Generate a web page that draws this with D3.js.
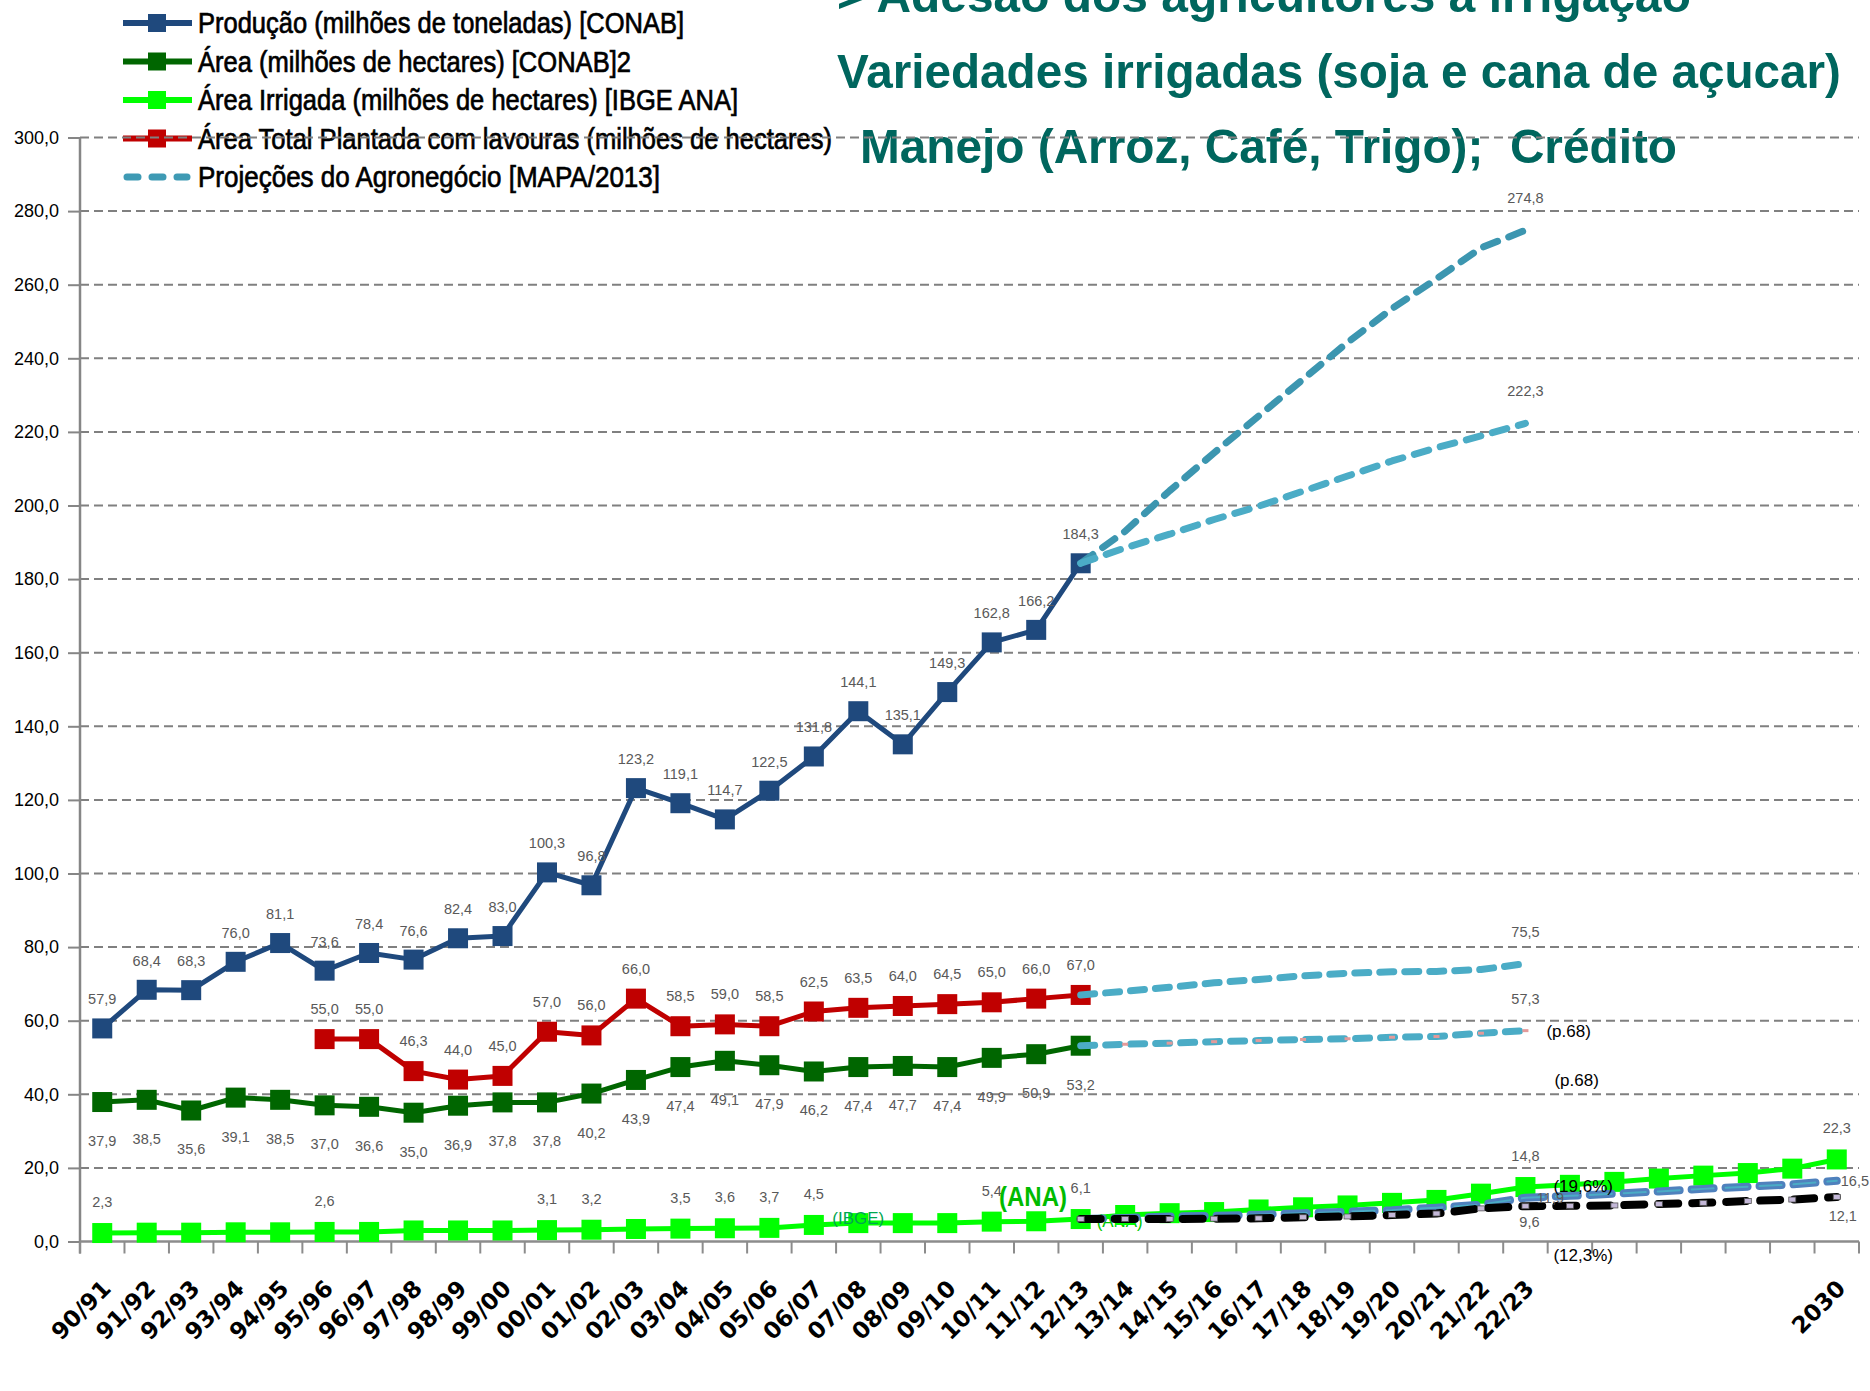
<!DOCTYPE html>
<html>
<head>
<meta charset="utf-8">
<title>Produção, área e projeções</title>
<script src="https://cdn.jsdelivr.net/npm/d3@7/dist/d3.min.js"></script>
<style>
body{margin:0;background:#fff;}
svg{display:block;}
</style>
</head>
<body>
<div id="chart"></div>
<script>

var categories = ["90/91","91/92","92/93","93/94","94/95","95/96","96/97","97/98","98/99","99/00",
  "00/01","01/02","02/03","03/04","04/05","05/06","06/07","07/08","08/09","09/10",
  "10/11","11/12","12/13","13/14","14/15","15/16","16/17","17/18","18/19","19/20",
  "20/21","21/22","22/23","23/24","24/25","25/26","26/27","27/28","28/29","2030"];

var tickLabels = ["90/91","91/92","92/93","93/94","94/95","95/96","96/97","97/98","98/99","99/00",
  "00/01","01/02","02/03","03/04","04/05","05/06","06/07","07/08","08/09","09/10",
  "10/11","11/12","12/13","13/14","14/15","15/16","16/17","17/18","18/19","19/20",
  "20/21","21/22","22/23","","","","","","","2030"];

var yTicks = [0,20,40,60,80,100,120,140,160,180,200,220,240,260,280,300];

// series (start at 90/91)
var producao = [57.9,68.4,68.3,76.0,81.1,73.6,78.4,76.6,82.4,83.0,100.3,96.8,123.2,119.1,114.7,122.5,131.8,144.1,135.1,149.3,162.8,166.2,184.3];
var areaConab = [37.9,38.5,35.6,39.1,38.5,37.0,36.6,35.0,36.9,37.8,37.8,40.2,43.9,47.4,49.1,47.9,46.2,47.4,47.7,47.4,49.9,50.9,53.2];
var areaTotal = [null,null,null,null,null,55.0,55.0,46.3,44.0,45.0,57.0,56.0,66.0,58.5,59.0,58.5,62.5,63.5,64.0,64.5,65.0,66.0,67.0];
var areaIrrigada = [2.3,2.4,2.4,2.5,2.5,2.6,2.6,3.0,3.0,3.0,3.1,3.2,3.4,3.5,3.6,3.7,4.5,5.0,5.0,5.0,5.4,5.5,6.1,
  7.2,7.7,8.0,8.7,9.3,9.8,10.5,11.3,13.0,14.8,15.4,16.2,17.1,17.9,18.6,19.8,22.3];
var irrigLabelIdx = [0,5,10,11,13,14,15,16,20,22,32,39];

// projections (start at 12/13)
var projStart = 22;
var projProdAlta = [184.3,193.0,204.0,214.3,224.3,234.3,244.3,253.5,261.6,270.0,274.8];
var projProdBaixa = [184.3,188.5,192.2,196.2,199.8,203.9,208.0,212.1,215.7,218.9,222.3];
var projAreaTotal = [67.0,68.0,69.1,70.3,71.2,72.2,72.9,73.3,73.4,73.9,75.5];
var projAreaConab = [53.2,53.6,53.9,54.3,54.6,54.9,55.1,55.5,55.7,56.6,57.3];
var projIrrigAlta = [6.1,6.4,6.8,7.0,7.3,7.7,8.1,8.5,9.2,10.0,11.9,12.4,13.0,13.6,14.3,14.9,15.5,16.5];
var projIrrigBaixa = [6.1,6.1,6.1,6.2,6.3,6.6,6.8,7.2,7.6,9.0,9.6,9.7,9.8,10.2,10.5,11.0,11.4,12.1];

var legendNames = ["Produção (milhões de toneladas) [CONAB]",
  "Área (milhões de hectares) [CONAB]2",
  "Área Irrigada (milhões de hectares) [IBGE ANA]",
  "Área Total Plantada com lavouras (milhões de hectares)",
  "Projeções do Agronegócio [MAPA/2013]"];
var legendColors = ["#1F497D","#006600","#00FF00","#C00000","#4BACC6"];

var titleLines = ["> Adesão dos agricultores à irrigação",
  "Variedades irrigadas (soja e cana de açucar)",
  "Manejo (Arroz, Café, Trigo);  Crédito"];


var svg = d3.select("#chart").append("svg")
    .attr("width", 1870).attr("height", 1391)
    .style("font-family", "'Liberation Sans', Arial, sans-serif");

var x = d3.scaleBand().domain(categories).range([80, 1859]);
var y = d3.scaleLinear().domain([0, 300]).range([1241.5, 137.5]);
var y0 = y(0);

function cx(i){ return x(categories[i]) + x.bandwidth()/2; }
function fmt(v){ return d3.format(".1f")(v).replace(".", ","); }
function pts(arr, start){
    return arr.map(function(v,k){ return {i: start+k, v: v}; })
              .filter(function(d){ return d.v != null; });
}
var line = d3.line().x(function(d){ return cx(d.i); }).y(function(d){ return y(d.v); });

// titulo
var tpos = [[837,12,854],[837,88,1004],[860,163,817]];
svg.append("g").selectAll("text").data(titleLines).enter().append("text")
    .attr("x", function(d,i){ return tpos[i][0]; })
    .attr("y", function(d,i){ return tpos[i][1]; })
    .attr("textLength", function(d,i){ return tpos[i][2]; })
    .attr("lengthAdjust", "spacingAndGlyphs")
    .style("white-space", "pre")
    .attr("font-size", 49).attr("font-weight", "bold")
    .attr("fill", "#00665e")
    .text(function(d){ return d; });

// legenda
var legendLen = [486,433,540,634,462];
var lg = svg.append("g");
legendNames.forEach(function(name, i){
    var ly = 23 + i*38.5;
    if (i < 4) {
        lg.append("line").attr("x1",123).attr("x2",192).attr("y1",ly).attr("y2",ly)
          .attr("stroke", legendColors[i]).attr("stroke-width", 6);
        lg.append("rect").attr("x",148).attr("y",ly-9).attr("width",18).attr("height",18)
          .attr("fill", legendColors[i]);
    } else {
        lg.append("line").attr("x1",127).attr("x2",187).attr("y1",ly).attr("y2",ly)
          .attr("stroke", "#3E9AB4").attr("stroke-width", 7)
          .attr("stroke-linecap","round").attr("stroke-dasharray","11,14");
    }
    lg.append("text").attr("x",198).attr("y",ly+10)
      .attr("font-size",29).attr("fill","#000")
      .attr("stroke","#000").attr("stroke-width",0.7)
      .attr("textLength", legendLen[i]).attr("lengthAdjust","spacingAndGlyphs")
      .text(name);
});

// grade
svg.append("g").selectAll("line").data(yTicks.slice(1)).enter().append("line")
    .attr("x1", 80).attr("x2", 1859)
    .attr("y1", function(d){ return y(d); }).attr("y2", function(d){ return y(d); })
    .attr("stroke", "#808080").attr("stroke-width", 2).attr("stroke-dasharray", "9,5");

// eixo y
var yAxis = svg.append("g").attr("transform", "translate(80,0)")
    .call(d3.axisLeft(y).tickValues(yTicks).tickFormat(fmt).tickSize(12).tickSizeOuter(0).tickPadding(9));
yAxis.select(".domain").remove();
yAxis.selectAll(".tick line").attr("stroke", "#868686").attr("stroke-width", 2);
yAxis.selectAll("text").attr("font-size", 18).attr("fill", "#000")
    .attr("font-family", "'Liberation Sans', Arial, sans-serif");
svg.append("line").attr("x1",80).attr("x2",80).attr("y1",y(300)).attr("y2",y0+12)
    .attr("stroke","#868686").attr("stroke-width",2.5);

// eixo x
svg.append("line").attr("x1",80).attr("x2",1859).attr("y1",y0).attr("y2",y0)
    .attr("stroke","#8c8c8c").attr("stroke-width",2.5);
svg.append("g").selectAll("line").data(d3.range(categories.length+1)).enter().append("line")
    .attr("x1", function(k){ return 80 + k*x.bandwidth(); })
    .attr("x2", function(k){ return 80 + k*x.bandwidth(); })
    .attr("y1", y0).attr("y2", y0+12)
    .attr("stroke","#8c8c8c").attr("stroke-width",2);

var xAxis = svg.append("g").attr("transform", "translate(0," + y0 + ")")
    .call(d3.axisBottom(x).tickSize(0).tickFormat(function(d,i){ return tickLabels[i]; }));
xAxis.select(".domain").remove();
xAxis.selectAll("text")
    .attr("x", 0).attr("y", 0).attr("dy", 0)
    .attr("transform", "translate(10," + (1290 - y0) + ") rotate(-45)")
    .attr("text-anchor", "end")
    .attr("font-family", "'DejaVu Sans', Verdana, sans-serif")
    .attr("font-size", 23).attr("font-weight", "bold").attr("fill", "#000");

// anotações sob as linhas
function note(tx, ty, str, o){
    o = o || {};
    var t = svg.append("text").attr("x", tx).attr("y", ty)
        .attr("font-size", o.size || 17).attr("fill", o.color || "#000")
        .attr("text-anchor", o.anchor || "start")
        .attr("font-weight", o.weight || "normal")
        .text(str);
    if (o.len) t.attr("textLength", o.len).attr("lengthAdjust","spacingAndGlyphs");
    return t;
}
note(cx(22)+16, y(6.1)+8, "(ANA)", {color:"#00C800", size:18, len:46});

// series
function series(data, color, start){
    var p = pts(data, start);
    svg.append("path").datum(p).attr("d", line)
        .attr("fill","none").attr("stroke",color).attr("stroke-width",5)
        .attr("stroke-linejoin","round");
    svg.append("g").selectAll("rect").data(p).enter().append("rect")
        .attr("x", function(d){ return cx(d.i)-10; })
        .attr("y", function(d){ return y(d.v)-10; })
        .attr("width",20).attr("height",20).attr("fill",color);
    return p;
}
var pIrr = series(areaIrrigada, "#00FF00", 0);
var pCon = series(areaConab, "#006600", 0);
var pTot = series(areaTotal, "#C00000", 0);
var pPro = series(producao, "#1F497D", 0);

// projeções
function proj(data, color, width, dash){
    var p = pts(data, projStart);
    svg.append("path").datum(p).attr("d", line)
        .attr("fill","none").attr("stroke",color).attr("stroke-width",width)
        .attr("stroke-linecap","round").attr("stroke-linejoin","round")
        .attr("stroke-dasharray",dash);
    return p;
}
var pAlta = proj(projProdAlta, "#3C96B0", 7, "15,12");
var pBaixa = proj(projProdBaixa, "#4BACC6", 7, "15,12");
var pTotP = proj(projAreaTotal, "#4BACC6", 7, "14,11");
var pConP = proj(projAreaConab, "#4BACC6", 7, "14,11");
svg.append("g").selectAll("rect").data(pConP.slice(1)).enter().append("rect")
    .attr("x", function(d){ return cx(d.i)-3; }).attr("y", function(d){ return y(d.v)-1.5; })
    .attr("width",6).attr("height",3).attr("fill","#e39a9a");

var pIA = proj(projIrrigAlta, "#4F81BD", 8, "22,12");
proj(projIrrigAlta, "#4BACC6", 2, "22,12");
var pIB = proj(projIrrigBaixa, "#000000", 8, "20,14");
svg.append("g").selectAll("rect").data(pIB).enter().append("rect")
    .attr("x", function(d){ return cx(d.i)-3.5; }).attr("y", function(d){ return y(d.v)-2.5; })
    .attr("width",7).attr("height",5).attr("fill","#c4b8d8").attr("stroke","#555").attr("stroke-width",0.8);

// rotulos de dados
function labels(p, dy, anchor){
    svg.append("g").selectAll("text").data(p).enter().append("text")
        .attr("x", function(d){ return cx(d.i); })
        .attr("y", function(d){ return y(d.v) + dy; })
        .attr("text-anchor", anchor || "middle")
        .attr("font-size", 14.5).attr("fill", "#595959")
        .text(function(d){ return fmt(d.v); });
}
labels(pPro, -24);
labels(pTot, -25);
labels(pCon, 44);
labels(pIrr.filter(function(d){ return irrigLabelIdx.indexOf(d.i) >= 0; }), -26);
labels([pAlta[pAlta.length-1], pBaixa[pBaixa.length-1], pTotP[pTotP.length-1], pConP[pConP.length-1]], -27);

var endIA = pIA[pIA.length-1], endIB = pIB[pIB.length-1];
note(cx(endIA.i)+4, y(endIA.v)+5, fmt(endIA.v), {color:"#595959", size:14.5});
note(cx(endIB.i)+6, y(endIB.v)+24, fmt(endIB.v), {color:"#595959", size:14.5, anchor:"middle"});
note(cx(32)+4, y(projIrrigBaixa[10])+21, fmt(projIrrigBaixa[10]), {color:"#595959", size:14.5, anchor:"middle"});
note(cx(32)+25, y(projIrrigAlta[10])+5, fmt(projIrrigAlta[10]), {color:"#595959", size:14.5, anchor:"middle"});

// anotações
note(cx(32)+21, y(57.3)+6, "(p.68)");
note(cx(32)+29, y(44)+6, "(p.68)");
note(cx(32)+28, y(15.1)+6, "(19,6%)");
note(cx(32)+28, y(-3.6)+6, "(12,3%)");
note(999, y(9.7), "(ANA)", {color:"#00BB00", size:28, weight:"bold", len:68});
note(cx(17), y(6.3)+6, "(IBGE)", {color:"#00A650", size:17, anchor:"middle"});

</script>
</body>
</html>
